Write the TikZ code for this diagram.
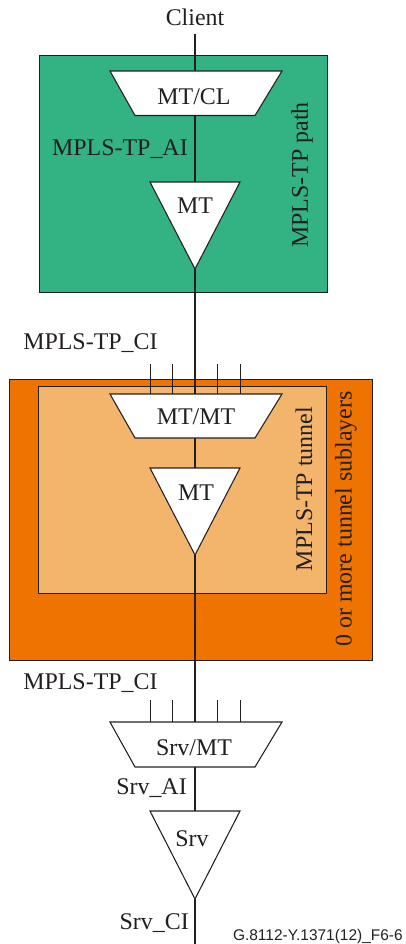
\documentclass[tikz,border=0pt]{standalone}
\usepackage{fontspec}
\setmainfont{Liberation Serif}
\newfontfamily\footfont{Liberation Sans}
\definecolor{ink}{HTML}{231F20}
\definecolor{pathgreen}{HTML}{33B283}
\definecolor{tunnelorange}{HTML}{EE7300}
\definecolor{tunnellight}{HTML}{F2B56B}
\tikzset{
  lab/.style={inner sep=0pt,text=ink,font=\fontsize{17.95}{20}\selectfont},
  sidelab/.style={lab,rotate=90},
  foot/.style={inner sep=0pt,text=ink,font=\footfont\fontsize{11.6}{13}\selectfont},
  layer/.style={draw=ink,line width=0.75pt},
  func/.style={draw=ink,fill=white,line width=0.8pt,line join=miter},
  thin link/.style={draw=ink,line width=0.8pt},
  thick link/.style={draw=ink,line width=2.2pt},
}
% name, y top, y bottom, y text, x text, text
\newcommand{\adaptbox}[6]{%
  \draw[func] (110,#2) -- (282,#2) -- (255,#3) -- (135,#3) -- cycle;
  \node[lab] (#1) at (#5,#4) {#6};
}
% name, y top, y apex, y text, x text, text
\newcommand{\termbox}[6]{%
  \draw[func] (150,#2) -- (240,#2) -- (195,#3) -- cycle;
  \node[lab] (#1) at (#5,#4) {#6};
}
\newcommand{\ticks}[3]{%
  \foreach \tx [count=\ti] in {150.5,172.5,217.5,240.5} {
    \coordinate (#1-a\ti) at (\tx,#2);
    \coordinate (#1-b\ti) at (\tx,#3);
    \draw[thin link] (#1-a\ti) -- (#1-b\ti);
  }
}
\begin{document}
\begin{tikzpicture}[x=0.75pt,y=-0.75pt]
\useasboundingbox (0,0) rectangle (406,944);
% layers
\draw[layer,fill=pathgreen] (39,56) rectangle (327,293);
\draw[layer,fill=tunnelorange] (9,379) rectangle (372,660);
\draw[layer,fill=tunnellight] (38,386) rectangle (326,593);
% end points
\coordinate (clientend) at (195,34);
\coordinate (bottomend) at (195,944);
% connectors (under the function boxes)
\coordinate (a-in) at (195,71);
\coordinate (a-out) at (195,115.5);
\coordinate (b-in) at (195,182);
\coordinate (b-out) at (195,269);
\coordinate (c-in) at (195,394);
\coordinate (c-out) at (195,438);
\coordinate (d-in) at (195,468);
\coordinate (d-out) at (195,555);
\coordinate (e-in) at (195,722);
\coordinate (e-out) at (195,767);
\coordinate (f-in) at (195,811);
\coordinate (f-out) at (195,899);
\draw[thin link] (clientend) -- (a-in);
\draw[thick link] (a-out) -- (b-in);
\draw[thick link] (b-out) -- (c-in);
\draw[thick link] (c-out) -- (d-in);
\draw[thick link] (d-out) -- (e-in);
\draw[thick link] (e-out) -- (f-in);
\draw[thick link] (f-out) -- (bottomend);
\ticks{tc}{364}{394}
\ticks{te}{700}{722}
% function boxes
\adaptbox{mtcl}{71}{115.5}{97}{194}{MT/CL}
\termbox{mta}{182}{269}{206}{195}{MT}
\adaptbox{mtmt}{394}{438}{417}{196}{MT/MT}
\termbox{mtb}{468}{555}{493}{196}{MT}
\adaptbox{srvmt}{722}{767}{748}{194}{Srv/MT}
\termbox{srv}{811}{899}{839}{192}{Srv}
% labels
\node[lab] (client) at (195,17) {Client};
\node[lab,anchor=east] (ai) at (188,149) {MPLS-TP\_AI};
\node[lab,anchor=west] (ci1) at (23,343.5) {MPLS-TP\_CI};
\node[lab,anchor=west] (ci2) at (23,683.5) {MPLS-TP\_CI};
\node[lab,anchor=east] (srvai) at (187,788) {Srv\_AI};
\node[lab,anchor=east] (srvci) at (189,923) {Srv\_CI};
\node[sidelab] (pathlab) at (302,175) {MPLS-TP path};
\node[sidelab] (tunlab) at (304,489) {MPLS-TP tunnel};
\node[sidelab] (sublab) at (346,519) {0 or more tunnel sublayers};
\node[foot,anchor=east] (ref) at (403,936) {G.8112-Y.1371(12)\_F6-6};
\end{tikzpicture}
\end{document}
